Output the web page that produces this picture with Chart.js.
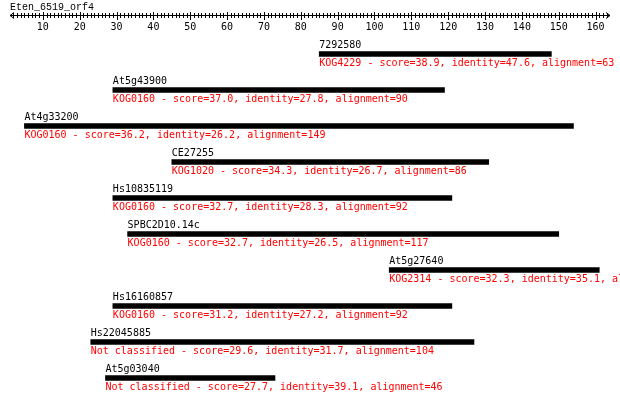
<!DOCTYPE html>
<html lang="en">
<head>
  <meta charset="UTF-8">
  <title>Eten_6519_orf4</title>
  <script src="https://cdn.jsdelivr.net/npm/chart.js"></script>
  <style>
    html, body { margin: 0; padding: 0; background: #fff; }
    #wrap { width: 620px; height: 401px; }
  </style>
</head>
<body>

<div id="wrap"><canvas id="chart" width="620" height="401"></canvas></div>

<script>
const queryName = 'Eten_6519_orf4';
const rulerStart = 1;
const rulerEnd = 164;
const tickLabels = [10, 20, 30, 40, 50, 60, 70, 80, 90, 100, 110, 120, 130, 140, 150, 160];

const hitNames = ['7292580', 'At5g43900', 'At4g33200', 'CE27255', 'Hs10835119',
                  'SPBC2D10.14c', 'At5g27640', 'Hs16160857', 'Hs22045885', 'At5g03040'];
const kogs = ['KOG4229', 'KOG0160', 'KOG0160', 'KOG1020', 'KOG0160',
              'KOG0160', 'KOG2314', 'KOG0160', 'Not classified', 'Not classified'];
const scores = [38.9, 37.0, 36.2, 34.3, 32.7, 32.7, 32.3, 31.2, 29.6, 27.7];
const identities = [47.6, 27.8, 26.2, 26.7, 28.3, 26.5, 35.1, 27.2, 31.7, 39.1];
const alignments = [63, 90, 149, 86, 92, 117, 57, 92, 104, 46];
const hitStarts = [85, 29, 5, 45, 29, 33, 104, 29, 23, 27];
const hitEnds = [148, 119, 154, 131, 121, 150, 161, 121, 127, 73];

const FONT = '10px "DejaVu Sans Mono", monospace';

// ruler along the top, drawn with the x scale
const rulerPlugin = {
  id: 'ruler',
  afterDraw(chart) {
    const ctx = chart.ctx;
    const xs = chart.scales.x;
    const y = 15.5;
    ctx.save();
    ctx.strokeStyle = '#000';
    ctx.lineWidth = 1;
    ctx.fillStyle = '#000';
    ctx.textBaseline = 'alphabetic';

    // title: Liberation Mono keeps the underscores visible at this size
    ctx.font = '10px "Liberation Mono", monospace';
    ctx.textAlign = 'left';
    ctx.fillText(queryName, 10, 10);
    ctx.font = FONT;

    const x0 = Math.round(xs.getPixelForValue(rulerStart));
    const x1 = Math.round(xs.getPixelForValue(rulerEnd));
    ctx.beginPath();
    ctx.moveTo(x0, y); ctx.lineTo(x1, y);
    // arrows
    ctx.moveTo(x0 + 4, y - 3); ctx.lineTo(x0, y); ctx.lineTo(x0 + 4, y + 3);
    ctx.moveTo(x1 - 4, y - 3); ctx.lineTo(x1, y); ctx.lineTo(x1 - 4, y + 3);
    for (let v = rulerStart + 1; v < rulerEnd; v++) {
      const px = Math.round(xs.getPixelForValue(v)) + 0.5;
      const major = v % 10 === 0;
      ctx.moveTo(px, major ? 12 : 13);
      ctx.lineTo(px, major ? 20 : 18);
    }
    ctx.stroke();

    ctx.textAlign = 'center';
    tickLabels.forEach(t => {
      ctx.fillText(String(t), xs.getPixelForValue(t), 30);
    });
    ctx.restore();
  }
};

// hit names above and descriptions below each bar
const hitLabels = {
  id: 'hitLabels',
  afterDatasetsDraw(chart) {
    const ctx = chart.ctx;
    const xs = chart.scales.x;
    const ys = chart.scales.y;
    ctx.save();
    ctx.font = FONT;
    ctx.textAlign = 'left';
    ctx.textBaseline = 'alphabetic';
    hitNames.forEach((name, i) => {
      const x = xs.getPixelForValue(hitStarts[i]);
      const cy = ys.getPixelForValue(i);
      ctx.fillStyle = '#000';
      ctx.fillText(name, x, cy - 6);
      ctx.fillStyle = '#ff0000';
      ctx.fillText(kogs[i] + ' - score=' + scores[i].toFixed(1) +
        ', identity=' + identities[i].toFixed(1) + ', alignment=' + alignments[i], x, cy + 11.5);
    });
    ctx.restore();
  }
};

new Chart(document.getElementById('chart').getContext('2d'), {
  type: 'bar',
  data: {
    labels: hitNames,
    datasets: [{
      data: hitStarts.map((s, i) => [s, hitEnds[i]]),
      backgroundColor: '#000',
      borderWidth: 0,
      barThickness: 5,
    }]
  },
  options: {
    indexAxis: 'y',
    responsive: false,
    animation: false,
    layout: { padding: { left: 6, right: 6, top: 36, bottom: 5 } },
    plugins: { legend: { display: false }, tooltip: { enabled: false } },
    scales: {
      x: { type: 'linear', min: 0, max: 165, display: false },
      y: { display: false }
    }
  },
  plugins: [rulerPlugin, hitLabels]
});
</script>

</body>
</html>
